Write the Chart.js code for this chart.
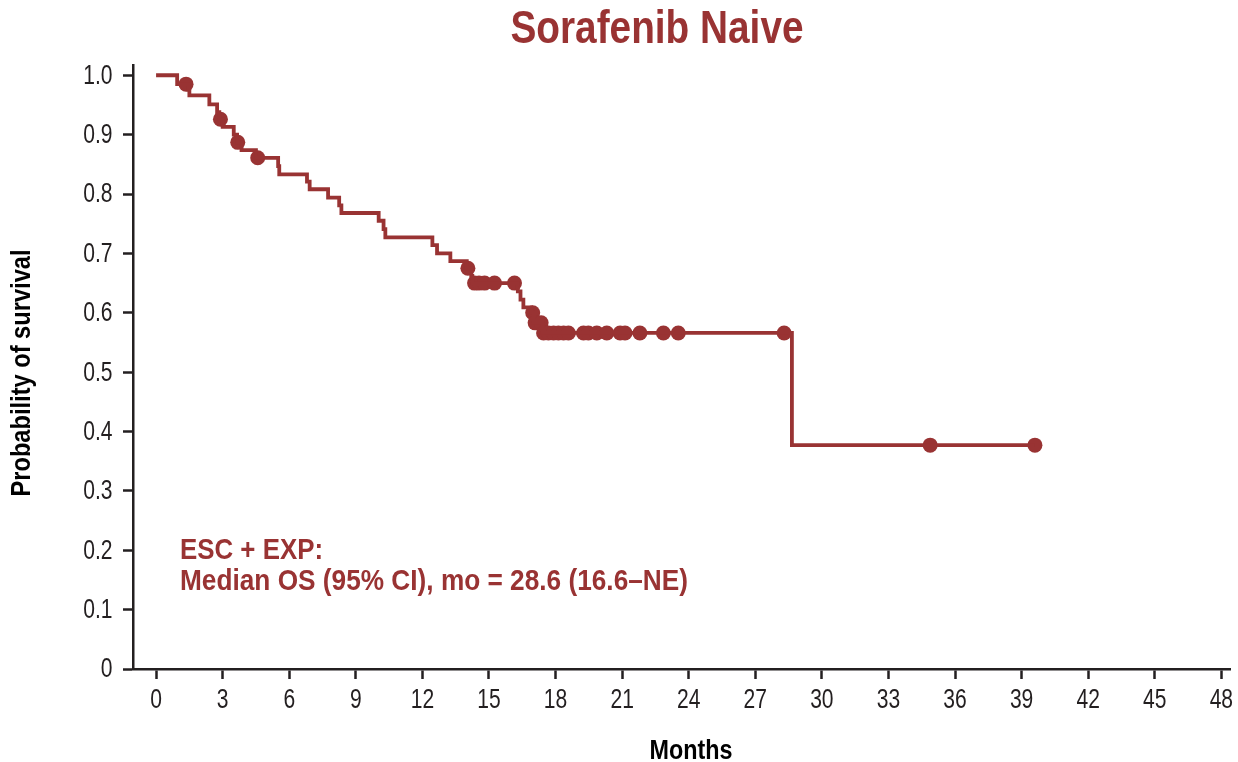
<!DOCTYPE html>
<html>
<head>
<meta charset="utf-8">
<script src="https://cdn.jsdelivr.net/npm/chart.js@4.4.1/dist/chart.umd.min.js"></script>
<style>
  html, body { margin: 0; padding: 0; background: #ffffff; }
  #wrap { width: 1238px; height: 762px; }
</style>
</head>
<body>
<div id="wrap"><canvas id="c" width="1238" height="762"></canvas></div>
<script>
// ---- Data (months, survival probability) ----
const stepTimes = [0, 0.95, 1.45, 1.5, 2.4, 2.75, 2.85, 3.0, 3.5, 3.65, 3.85, 4.5, 5.5, 5.55, 6.8, 6.92, 7.75, 8.25, 8.35, 10.03, 10.25, 10.33, 12.45, 12.66, 13.26, 14.0, 14.2, 14.25, 16.3, 16.42, 16.55, 16.9, 17.02, 17.4, 28.65, 39.6];
const stepSurv  = [1.0, 0.985, 0.976, 0.966, 0.951, 0.938, 0.926, 0.913, 0.900, 0.887, 0.874, 0.861, 0.847, 0.833, 0.821, 0.808, 0.794, 0.781, 0.768, 0.755, 0.741, 0.727, 0.714, 0.700, 0.687, 0.675, 0.662, 0.650, 0.636, 0.622, 0.609, 0.600, 0.583, 0.566, 0.377, 0.377];

const censorTimes = [1.35, 2.9, 3.68, 4.58, 14.05, 14.35, 14.55, 14.8, 15.25, 16.15, 16.97, 17.08, 17.35, 17.46, 17.68, 17.91, 18.13, 18.36, 18.58, 19.26, 19.48, 19.86, 20.31, 20.91, 21.13, 21.8, 22.86, 23.53, 28.3, 34.88, 39.6];
const censorSurv  = [0.985, 0.926, 0.887, 0.861, 0.675, 0.650, 0.650, 0.650, 0.650, 0.650, 0.600, 0.583, 0.583, 0.566, 0.566, 0.566, 0.566, 0.566, 0.566, 0.566, 0.566, 0.566, 0.566, 0.566, 0.566, 0.566, 0.566, 0.566, 0.566, 0.377, 0.377];

const xTickValues = [0, 3, 6, 9, 12, 15, 18, 21, 24, 27, 30, 33, 36, 39, 42, 45, 48];
const yTickValues = [0, 0.1, 0.2, 0.3, 0.4, 0.5, 0.6, 0.7, 0.8, 0.9, 1.0];
const yTickLabels = ['0', '0.1', '0.2', '0.3', '0.4', '0.5', '0.6', '0.7', '0.8', '0.9', '1.0'];

const chartTitle = 'Sorafenib Naive';
const xTitle = 'Months';
const yTitle = 'Probability of survival';
const noteLines = ['ESC + EXP:', 'Median OS (95% CI), mo = 28.6 (16.6\u2013NE)'];

// ---- Styling ----
const RED = '#993333';
const AXIS = '#231f20';
const FONT = "'Liberation Sans Narrow', 'Arial Narrow', 'Liberation Sans', Arial, sans-serif";

const stepData = stepTimes.map((t, i) => ({ x: t, y: stepSurv[i] }));
const censorData = censorTimes.map((t, i) => ({ x: t, y: censorSurv[i] }));

// draw text horizontally condensed (to imitate a narrow typeface)
function drawCondensed(ctx, text, x, y, opts) {
  ctx.save();
  ctx.font = opts.font;
  ctx.fillStyle = opts.color;
  ctx.textAlign = opts.align || 'left';
  ctx.textBaseline = opts.baseline || 'alphabetic';
  let sx = opts.scale || 1;
  if (opts.width) sx = opts.width / ctx.measureText(text).width;
  ctx.translate(x, y);
  if (opts.rotate) ctx.rotate(opts.rotate);
  ctx.scale(sx, 1);
  ctx.fillText(text, 0, 0);
  ctx.restore();
}

const textPlugin = {
  id: 'texts',
  afterDraw(chart) {
    const ctx = chart.ctx;
    const xs = chart.scales.x, ys = chart.scales.y;
    // tick labels
    xTickValues.forEach(v => {
      drawCondensed(ctx, String(v), xs.getPixelForValue(v), 701,
        { font: '27px ' + FONT, color: '#231f20', align: 'center', baseline: 'middle', scale: 0.78 });
    });
    yTickValues.forEach((v, i) => {
      drawCondensed(ctx, yTickLabels[i], 112.5, ys.getPixelForValue(v) + 1,
        { font: '27px ' + FONT, color: '#231f20', align: 'right', baseline: 'middle', scale: 0.78 });
    });
    // main title
    drawCondensed(ctx, chartTitle, 657, 43,
      { font: 'bold 47px ' + FONT, color: RED, align: 'center', width: 293 });
    // axis titles
    drawCondensed(ctx, xTitle, 691, 759,
      { font: 'bold 28px ' + FONT, color: '#000000', align: 'center', width: 83 });
    drawCondensed(ctx, yTitle, 22, 373,
      { font: 'bold 28px ' + FONT, color: '#000000', align: 'center', baseline: 'middle', width: 247, rotate: -Math.PI / 2 });
    // annotation
    drawCondensed(ctx, noteLines[0], 180, 558.5,
      { font: 'bold 30px ' + FONT, color: RED, width: 143 });
    drawCondensed(ctx, noteLines[1], 180, 590,
      { font: 'bold 30px ' + FONT, color: RED, width: 508 });
  }
};

new Chart(document.getElementById('c'), {
  type: 'scatter',
  data: {
    datasets: [
      {
        data: stepData,
        showLine: true,
        stepped: true,
        borderColor: RED,
        borderWidth: 3.8,
        pointRadius: 0,
        fill: false
      },
      {
        data: censorData,
        showLine: false,
        pointRadius: 7.5,
        pointBackgroundColor: RED,
        pointBorderWidth: 0,
        pointHoverRadius: 7.5
      }
    ]
  },
  options: {
    responsive: false,
    animation: false,
    events: [],
    layout: { padding: { left: 0, right: 8, top: 65, bottom: 0 } },
    plugins: {
      legend: { display: false },
      tooltip: { enabled: false },
      title: { display: false }
    },
    scales: {
      x: {
        type: 'linear',
        min: -1.04,
        max: 48.39,
        afterFit(scale) { scale.height = 93; },
        afterBuildTicks(scale) { scale.ticks = xTickValues.map(v => ({ value: v })); },
        grid: {
          display: true,
          drawOnChartArea: false,
          drawTicks: true,
          tickLength: 10,
          tickWidth: 2.5,
          tickColor: AXIS
        },
        border: { display: true, color: AXIS, width: 2.5 },
        ticks: { display: false }
      },
      y: {
        type: 'linear',
        min: 0,
        max: 1.0173,
        afterFit(scale) { scale.width = 133; },
        afterBuildTicks(scale) { scale.ticks = yTickValues.map(v => ({ value: v })); },
        grid: {
          display: true,
          drawOnChartArea: false,
          drawTicks: true,
          tickLength: 10,
          tickWidth: 2.5,
          tickColor: AXIS
        },
        border: { display: true, color: AXIS, width: 2.5 },
        ticks: { display: false }
      }
    }
  },
  plugins: [textPlugin]
});
</script>
</body>
</html>
